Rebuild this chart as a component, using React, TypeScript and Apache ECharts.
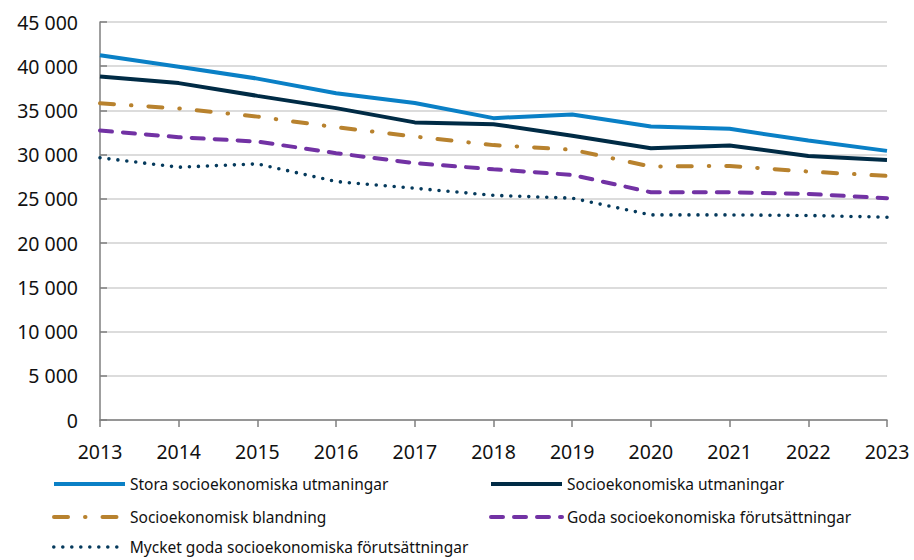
import React, { useEffect, useRef } from "react";
import * as echarts from "echarts";

const years = ["2013", "2014", "2015", "2016", "2017", "2018", "2019", "2020", "2021", "2022", "2023"];

const storaUtmaningar = [41250, 39950, 38600, 36950, 35850, 34130, 34550, 33180, 32920, 31600, 30430];
const utmaningar = [38840, 38090, 36650, 35260, 33650, 33450, 32130, 30730, 31040, 29860, 29410];
const blandning = [35820, 35220, 34300, 33100, 32050, 31080, 30560, 28660, 28730, 28090, 27600];
const goda = [32730, 31980, 31480, 30170, 29040, 28350, 27710, 25750, 25750, 25560, 25080];
const mycketGoda = [29650, 28580, 28960, 26960, 26200, 25400, 25080, 23190, 23190, 23120, 22930];

const seriesNames = [
  "Stora socioekonomiska utmaningar",
  "Socioekonomiska utmaningar",
  "Socioekonomisk blandning",
  "Goda socioekonomiska förutsättningar",
  "Mycket goda socioekonomiska förutsättningar",
];

const FONT = "'Noto Sans', 'Open Sans', sans-serif";

export default function App() {
  const ref = useRef<HTMLDivElement>(null);
  useEffect(() => {
    if (!ref.current) return;
    const chart = echarts.init(ref.current, null, { renderer: "svg" });
    const legendPos = [
      { left: 52, top: 476 },
      { left: 489, top: 476 },
      { left: 52, top: 509 },
      { left: 489, top: 509 },
      { left: 52, top: 539 },
    ];
    const lineStyles: any[] = [
      { color: "#0a80c6", width: 4, type: "solid" },
      { color: "#002b45", width: 4, type: "solid" },
      { color: "#b8822e", width: 4, type: [14, 17, 0.5, 17], cap: "round" },
      { color: "#7232a4", width: 4, type: [12, 11], cap: "round" },
      { color: "#053a5c", width: 3.6, type: [0, 9], cap: "round" },
    ];
    const data = [storaUtmaningar, utmaningar, blandning, goda, mycketGoda];
    chart.setOption({
      animation: false,
      textStyle: { fontFamily: FONT },
      grid: { left: 100, right: 27, top: 22, bottom: 140, containLabel: false },
      legend: seriesNames.map((n, i) => ({
        data: [n],
        left: legendPos[i].left,
        top: legendPos[i].top,
        itemWidth: 71,
        itemHeight: 4,
        itemGap: 5,
        padding: 0,
        itemStyle: { opacity: 0 },
        lineStyle: { width: lineStyles[i].width, type: lineStyles[i].type, cap: lineStyles[i].cap || "butt" },
        textStyle: { fontFamily: FONT, fontSize: 15.5, color: "#111" },
      })),
      xAxis: {
        type: "category",
        data: years,
        boundaryGap: false,
        axisLine: { lineStyle: { color: "#7f7f7f", width: 1.5 } },
        axisTick: { show: true, length: 7, lineStyle: { color: "#7f7f7f", width: 1.5 } },
        axisLabel: { fontSize: 19.5, color: "#111", margin: 21, fontFamily: FONT },
      },
      yAxis: {
        type: "value",
        min: 0,
        max: 45000,
        interval: 5000,
        axisLine: { show: true, lineStyle: { color: "#7f7f7f", width: 1.5 } },
        axisTick: { show: true, inside: true, length: 7, lineStyle: { color: "#7f7f7f", width: 1.5 } },
        splitLine: { lineStyle: { color: "#d0d0d0", width: 1.5 } },
        axisLabel: {
          fontSize: 19.5,
          color: "#111",
          margin: 22,
          fontFamily: FONT,
          formatter: (v: number) => String(v).replace(/\B(?=(\d{3})+(?!\d))/g, " "),
        },
      },
      series: seriesNames.map((n, i) => ({
        name: n,
        type: "line",
        data: data[i],
        symbol: "none",
        showSymbol: false,
        lineStyle: lineStyles[i],
        itemStyle: { color: lineStyles[i].color },
        z: 5 - i,
      })),
    });
    return () => chart.dispose();
  }, []);
  return <div ref={ref} style={{ width: 914, height: 560, position: "absolute", left: 0, top: 0 }} />;
}
